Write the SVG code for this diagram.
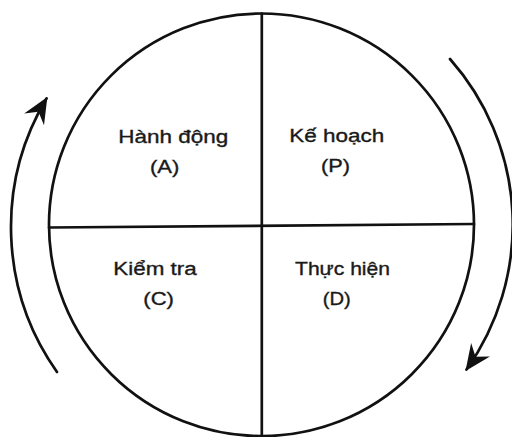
<svg xmlns="http://www.w3.org/2000/svg" width="512" height="437" viewBox="0 0 512 437">
  <style>
    .ln { fill: none; stroke: #111; stroke-width: 2.7; stroke-linecap: round; }
    .lbl { font-family: "Liberation Sans", Arial, sans-serif; font-size: 18px; fill: #1a1a1a; stroke: #1a1a1a; stroke-width: 0.35; }
  </style>
  <defs>
    <marker id="arrow" markerUnits="userSpaceOnUse" markerWidth="30" markerHeight="30" refX="0" refY="0" viewBox="-24 -13 26 26" orient="auto">
      <path d="M1.5,0 L-21,-10 L-13.5,0 L-21,10 Z" fill="#111"/>
    </marker>
  </defs>
  <rect width="512" height="437" fill="#ffffff"/>
  <g id="cycle">
    <ellipse class="ln" cx="261.5" cy="224.8" rx="212.5" ry="211.3"/>
    <line class="ln" x1="261.8" y1="13.5" x2="261.8" y2="437"/>
    <line class="ln" x1="49" y1="227.5" x2="474" y2="224"/>
  </g>
  <g id="connectors">
    <path class="ln" d="M57,372 A251,251 0 0 1 46.5,98.5" marker-end="url(#arrow)"/>
    <path class="ln" d="M450,59 A250,250 0 0 1 466.5,369.5" marker-end="url(#arrow)"/>
  </g>
  <g id="node-A">
    <text class="lbl" x="118.3" y="143.3" textLength="110" lengthAdjust="spacingAndGlyphs">Hành động</text>
    <text class="lbl" x="150" y="173.3" textLength="29.3" lengthAdjust="spacingAndGlyphs">(A)</text>
  </g>
  <g id="node-P">
    <text class="lbl" x="289.3" y="142.3" textLength="95" lengthAdjust="spacingAndGlyphs">Kế hoạch</text>
    <text class="lbl" x="321" y="172.3" textLength="29" lengthAdjust="spacingAndGlyphs">(P)</text>
  </g>
  <g id="node-C">
    <text class="lbl" x="113.3" y="275" textLength="83.4" lengthAdjust="spacingAndGlyphs">Kiểm tra</text>
    <text class="lbl" x="143.3" y="305" textLength="30.7" lengthAdjust="spacingAndGlyphs">(C)</text>
  </g>
  <g id="node-D">
    <text class="lbl" x="295" y="275" textLength="95" lengthAdjust="spacingAndGlyphs">Thực hiện</text>
    <text class="lbl" x="322.7" y="305" textLength="28" lengthAdjust="spacingAndGlyphs">(D)</text>
  </g>
</svg>
